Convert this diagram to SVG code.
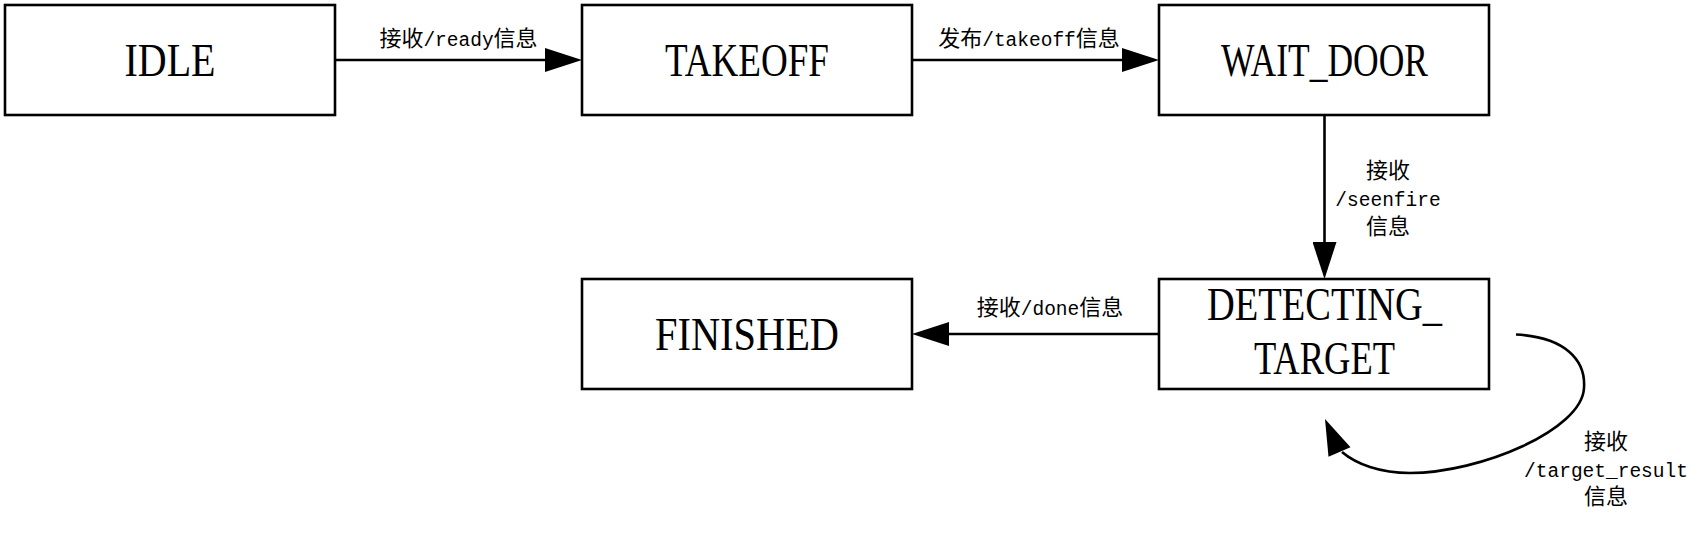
<svg xmlns="http://www.w3.org/2000/svg" width="1692" height="534" viewBox="0 0 1692 534">
<style>
.box{fill:#fff;stroke:#000;stroke-width:2.6}
.nt{font-family:"Liberation Serif","Times New Roman",serif;font-size:46px;fill:#000;text-anchor:middle}
.lbl{font-family:"Liberation Mono","Noto Sans CJK SC",monospace;font-size:19.5px;fill:#000;text-anchor:middle}
.cjk{font-family:"Noto Sans CJK SC","Noto Sans CJK JP",sans-serif;font-size:22px}
.edge{fill:none;stroke:#000;stroke-width:2.6}
.head{fill:#000;stroke:none}
</style>
<defs>
<marker id="arr" markerUnits="userSpaceOnUse" viewBox="0 0 37 24" markerWidth="37" markerHeight="24" refX="7" refY="12" orient="auto">
<path d="M0,0 L37,12 L0,24 Z" class="head"/>
</marker>
</defs>
<g id="connectors">
<path class="edge" d="M335,60 H552" marker-end="url(#arr)"/>
<path class="edge" d="M912,60 H1129" marker-end="url(#arr)"/>
<path class="edge" d="M1324.5,115 V249" marker-end="url(#arr)"/>
<path class="edge" d="M1159,334 H942" marker-end="url(#arr)"/>
<path class="edge" d="M1516,334.5 C1565,337 1586,360 1584,388 C1582,430 1480,473 1410,473 C1380,473 1356,464 1342,452"/>
<polygon class="head" points="1325,419 1350.5,447.2 1328.5,456.8"/>
<text class="lbl" x="458.5" y="46"><tspan class="cjk">接收</tspan>/ready<tspan class="cjk">信息</tspan></text>
<text class="lbl" x="1029" y="46"><tspan class="cjk">发布</tspan>/takeoff<tspan class="cjk">信息</tspan></text>
<text class="lbl" x="1388" y="177.5"><tspan class="cjk">接收</tspan><tspan x="1388" y="205.5">/seenfire</tspan><tspan class="cjk" x="1388" y="233.5">信息</tspan></text>
<text class="lbl" x="1050" y="314.5"><tspan class="cjk">接收</tspan>/done<tspan class="cjk">信息</tspan></text>
<text class="lbl" x="1606" y="449"><tspan class="cjk">接收</tspan><tspan x="1606" y="476.5">/target_result</tspan><tspan class="cjk" x="1606" y="504">信息</tspan></text>
</g>
<g id="idle">
<rect class="box" x="5" y="5" width="330" height="110"/>
<text class="nt" x="170" y="75.5" textLength="91" lengthAdjust="spacingAndGlyphs">IDLE</text>
</g>
<g id="takeoff">
<rect class="box" x="582" y="5" width="330" height="110"/>
<text class="nt" x="747" y="75.5" textLength="164" lengthAdjust="spacingAndGlyphs">TAKEOFF</text>
</g>
<g id="wait_door">
<rect class="box" x="1159" y="5" width="330" height="110"/>
<text class="nt" x="1324.5" y="75.5" textLength="207" lengthAdjust="spacingAndGlyphs">WAIT_DOOR</text>
</g>
<g id="finished">
<rect class="box" x="582" y="279" width="330" height="110"/>
<text class="nt" x="747" y="349.5" textLength="184" lengthAdjust="spacingAndGlyphs">FINISHED</text>
</g>
<g id="detecting_target">
<rect class="box" x="1159" y="279" width="330" height="110"/>
<text class="nt" x="1324.5" y="320" textLength="235" lengthAdjust="spacingAndGlyphs">DETECTING_</text>
<text class="nt" x="1324.5" y="374" textLength="141" lengthAdjust="spacingAndGlyphs">TARGET</text>
</g>
</svg>
